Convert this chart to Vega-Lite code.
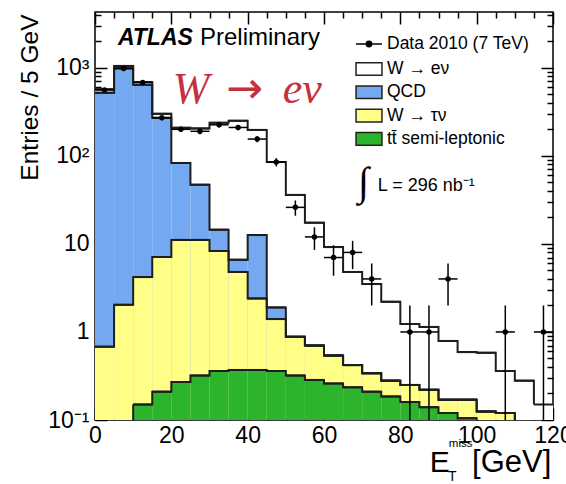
{
  "$schema": "https://vega.github.io/schema/vega-lite/v6.json",
  "width": 458,
  "height": 408,
  "autosize": "none",
  "padding": {"left": 95, "top": 12, "right": 13, "bottom": 64},
  "background": "white",
  "config": {
    "font": "Liberation Sans",
    "view": {"stroke": "black", "strokeWidth": 1.5},
    "axis": {"domain": false, "grid": false, "tickColor": "black", "tickWidth": 1.5, "labelColor": "black", "titleColor": "black", "labelFont": "Liberation Sans", "titleFont": "Liberation Sans"}
  },
  "datasets": {
    "hist": [
      {"bin_lo": 0, "bin_hi": 5, "layer": "W → eν", "top": 570},
      {"bin_lo": 5, "bin_hi": 10, "layer": "W → eν", "top": 1050},
      {"bin_lo": 10, "bin_hi": 15, "layer": "W → eν", "top": 690},
      {"bin_lo": 15, "bin_hi": 20, "layer": "W → eν", "top": 300},
      {"bin_lo": 20, "bin_hi": 25, "layer": "W → eν", "top": 208},
      {"bin_lo": 25, "bin_hi": 30, "layer": "W → eν", "top": 205},
      {"bin_lo": 30, "bin_hi": 35, "layer": "W → eν", "top": 237},
      {"bin_lo": 35, "bin_hi": 40, "layer": "W → eν", "top": 250},
      {"bin_lo": 40, "bin_hi": 45, "layer": "W → eν", "top": 197},
      {"bin_lo": 45, "bin_hi": 50, "layer": "W → eν", "top": 85},
      {"bin_lo": 50, "bin_hi": 55, "layer": "W → eν", "top": 36},
      {"bin_lo": 55, "bin_hi": 60, "layer": "W → eν", "top": 17.4},
      {"bin_lo": 60, "bin_hi": 65, "layer": "W → eν", "top": 9.2},
      {"bin_lo": 65, "bin_hi": 70, "layer": "W → eν", "top": 4.8},
      {"bin_lo": 70, "bin_hi": 75, "layer": "W → eν", "top": 3.5},
      {"bin_lo": 75, "bin_hi": 80, "layer": "W → eν", "top": 2.2},
      {"bin_lo": 80, "bin_hi": 85, "layer": "W → eν", "top": 1.23},
      {"bin_lo": 85, "bin_hi": 90, "layer": "W → eν", "top": 1.14},
      {"bin_lo": 90, "bin_hi": 95, "layer": "W → eν", "top": 0.79},
      {"bin_lo": 95, "bin_hi": 100, "layer": "W → eν", "top": 0.59},
      {"bin_lo": 100, "bin_hi": 105, "layer": "W → eν", "top": 0.58},
      {"bin_lo": 105, "bin_hi": 110, "layer": "W → eν", "top": 0.36},
      {"bin_lo": 110, "bin_hi": 115, "layer": "W → eν", "top": 0.28},
      {"bin_lo": 115, "bin_hi": 120, "layer": "W → eν", "top": 0.15},
      {"bin_lo": 0, "bin_hi": 5, "layer": "QCD", "top": 520},
      {"bin_lo": 5, "bin_hi": 10, "layer": "QCD", "top": 990},
      {"bin_lo": 10, "bin_hi": 15, "layer": "QCD", "top": 640},
      {"bin_lo": 15, "bin_hi": 20, "layer": "QCD", "top": 270},
      {"bin_lo": 20, "bin_hi": 25, "layer": "QCD", "top": 83},
      {"bin_lo": 25, "bin_hi": 30, "layer": "QCD", "top": 47},
      {"bin_lo": 30, "bin_hi": 35, "layer": "QCD", "top": 14.5},
      {"bin_lo": 35, "bin_hi": 40, "layer": "QCD", "top": 6.6},
      {"bin_lo": 40, "bin_hi": 45, "layer": "QCD", "top": 12.6},
      {"bin_lo": 45, "bin_hi": 50, "layer": "QCD", "top": 1.9},
      {"bin_lo": 50, "bin_hi": 55, "layer": "QCD", "top": 0.88},
      {"bin_lo": 55, "bin_hi": 60, "layer": "QCD", "top": 0.7},
      {"bin_lo": 60, "bin_hi": 65, "layer": "QCD", "top": 0.54},
      {"bin_lo": 65, "bin_hi": 70, "layer": "QCD", "top": 0.42},
      {"bin_lo": 70, "bin_hi": 75, "layer": "QCD", "top": 0.34},
      {"bin_lo": 75, "bin_hi": 80, "layer": "QCD", "top": 0.28},
      {"bin_lo": 80, "bin_hi": 85, "layer": "QCD", "top": 0.25},
      {"bin_lo": 85, "bin_hi": 90, "layer": "QCD", "top": 0.22},
      {"bin_lo": 90, "bin_hi": 95, "layer": "QCD", "top": 0.17},
      {"bin_lo": 95, "bin_hi": 100, "layer": "QCD", "top": 0.17},
      {"bin_lo": 100, "bin_hi": 105, "layer": "QCD", "top": 0.125},
      {"bin_lo": 105, "bin_hi": 110, "layer": "QCD", "top": 0.12},
      {"bin_lo": 110, "bin_hi": 115, "layer": "QCD", "top": 0.085},
      {"bin_lo": 115, "bin_hi": 120, "layer": "QCD", "top": 0.07},
      {"bin_lo": 0, "bin_hi": 5, "layer": "W → τν", "top": 0.68},
      {"bin_lo": 5, "bin_hi": 10, "layer": "W → τν", "top": 2.03},
      {"bin_lo": 10, "bin_hi": 15, "layer": "W → τν", "top": 4.2},
      {"bin_lo": 15, "bin_hi": 20, "layer": "W → τν", "top": 7.1},
      {"bin_lo": 20, "bin_hi": 25, "layer": "W → τν", "top": 11.1},
      {"bin_lo": 25, "bin_hi": 30, "layer": "W → τν", "top": 11.1},
      {"bin_lo": 30, "bin_hi": 35, "layer": "W → τν", "top": 8.3},
      {"bin_lo": 35, "bin_hi": 40, "layer": "W → τν", "top": 4.8},
      {"bin_lo": 40, "bin_hi": 45, "layer": "W → τν", "top": 2.4},
      {"bin_lo": 45, "bin_hi": 50, "layer": "W → τν", "top": 1.4},
      {"bin_lo": 50, "bin_hi": 55, "layer": "W → τν", "top": 0.88},
      {"bin_lo": 55, "bin_hi": 60, "layer": "W → τν", "top": 0.7},
      {"bin_lo": 60, "bin_hi": 65, "layer": "W → τν", "top": 0.54},
      {"bin_lo": 65, "bin_hi": 70, "layer": "W → τν", "top": 0.42},
      {"bin_lo": 70, "bin_hi": 75, "layer": "W → τν", "top": 0.34},
      {"bin_lo": 75, "bin_hi": 80, "layer": "W → τν", "top": 0.28},
      {"bin_lo": 80, "bin_hi": 85, "layer": "W → τν", "top": 0.25},
      {"bin_lo": 85, "bin_hi": 90, "layer": "W → τν", "top": 0.22},
      {"bin_lo": 90, "bin_hi": 95, "layer": "W → τν", "top": 0.17},
      {"bin_lo": 95, "bin_hi": 100, "layer": "W → τν", "top": 0.17},
      {"bin_lo": 100, "bin_hi": 105, "layer": "W → τν", "top": 0.125},
      {"bin_lo": 105, "bin_hi": 110, "layer": "W → τν", "top": 0.12},
      {"bin_lo": 110, "bin_hi": 115, "layer": "W → τν", "top": 0.085},
      {"bin_lo": 115, "bin_hi": 120, "layer": "W → τν", "top": 0.07},
      {"bin_lo": 10, "bin_hi": 15, "layer": "tt̄ semi-leptonic", "top": 0.15},
      {"bin_lo": 15, "bin_hi": 20, "layer": "tt̄ semi-leptonic", "top": 0.21},
      {"bin_lo": 20, "bin_hi": 25, "layer": "tt̄ semi-leptonic", "top": 0.27},
      {"bin_lo": 25, "bin_hi": 30, "layer": "tt̄ semi-leptonic", "top": 0.32},
      {"bin_lo": 30, "bin_hi": 35, "layer": "tt̄ semi-leptonic", "top": 0.36},
      {"bin_lo": 35, "bin_hi": 40, "layer": "tt̄ semi-leptonic", "top": 0.37},
      {"bin_lo": 40, "bin_hi": 45, "layer": "tt̄ semi-leptonic", "top": 0.37},
      {"bin_lo": 45, "bin_hi": 50, "layer": "tt̄ semi-leptonic", "top": 0.36},
      {"bin_lo": 50, "bin_hi": 55, "layer": "tt̄ semi-leptonic", "top": 0.32},
      {"bin_lo": 55, "bin_hi": 60, "layer": "tt̄ semi-leptonic", "top": 0.285},
      {"bin_lo": 60, "bin_hi": 65, "layer": "tt̄ semi-leptonic", "top": 0.26},
      {"bin_lo": 65, "bin_hi": 70, "layer": "tt̄ semi-leptonic", "top": 0.235},
      {"bin_lo": 70, "bin_hi": 75, "layer": "tt̄ semi-leptonic", "top": 0.21},
      {"bin_lo": 75, "bin_hi": 80, "layer": "tt̄ semi-leptonic", "top": 0.185},
      {"bin_lo": 80, "bin_hi": 85, "layer": "tt̄ semi-leptonic", "top": 0.16},
      {"bin_lo": 85, "bin_hi": 90, "layer": "tt̄ semi-leptonic", "top": 0.14},
      {"bin_lo": 90, "bin_hi": 95, "layer": "tt̄ semi-leptonic", "top": 0.12},
      {"bin_lo": 95, "bin_hi": 100, "layer": "tt̄ semi-leptonic", "top": 0.105},
      {"bin_lo": 100, "bin_hi": 105, "layer": "tt̄ semi-leptonic", "top": 0.085},
      {"bin_lo": 105, "bin_hi": 110, "layer": "tt̄ semi-leptonic", "top": 0.07},
      {"bin_lo": 110, "bin_hi": 115, "layer": "tt̄ semi-leptonic", "top": 0.055},
      {"bin_lo": 115, "bin_hi": 120, "layer": "tt̄ semi-leptonic", "top": 0.045}
    ],
    "points": [
      {"bin_lo": 0, "bin_hi": 5, "center": 2.5, "n": 560, "lo": 536, "hi": 584},
      {"bin_lo": 5, "bin_hi": 10, "center": 7.5, "n": 980, "lo": 949, "hi": 1011},
      {"bin_lo": 10, "bin_hi": 15, "center": 12.5, "n": 680, "lo": 654, "hi": 706},
      {"bin_lo": 15, "bin_hi": 20, "center": 17.5, "n": 270, "lo": 254, "hi": 286},
      {"bin_lo": 20, "bin_hi": 25, "center": 22.5, "n": 200, "lo": 186, "hi": 214},
      {"bin_lo": 25, "bin_hi": 30, "center": 27.5, "n": 190, "lo": 176, "hi": 204},
      {"bin_lo": 30, "bin_hi": 35, "center": 32.5, "n": 225, "lo": 210, "hi": 240},
      {"bin_lo": 35, "bin_hi": 40, "center": 37.5, "n": 210, "lo": 195.5, "hi": 224.5},
      {"bin_lo": 40, "bin_hi": 45, "center": 42.5, "n": 155, "lo": 142.6, "hi": 167.4},
      {"bin_lo": 45, "bin_hi": 50, "center": 47.5, "n": 85, "lo": 75.8, "hi": 94.2},
      {"bin_lo": 50, "bin_hi": 55, "center": 52.5, "n": 26, "lo": 20.9, "hi": 31.1},
      {"bin_lo": 55, "bin_hi": 60, "center": 57.5, "n": 12, "lo": 8.54, "hi": 15.46},
      {"bin_lo": 60, "bin_hi": 65, "center": 62.5, "n": 7, "lo": 4.35, "hi": 9.65},
      {"bin_lo": 65, "bin_hi": 70, "center": 67.5, "n": 8, "lo": 5.17, "hi": 10.83},
      {"bin_lo": 70, "bin_hi": 75, "center": 72.5, "n": 4, "lo": 2, "hi": 6},
      {"bin_lo": 80, "bin_hi": 85, "center": 82.5, "n": 1, "lo": 0, "hi": 2},
      {"bin_lo": 85, "bin_hi": 90, "center": 87.5, "n": 1, "lo": 0, "hi": 2},
      {"bin_lo": 90, "bin_hi": 95, "center": 92.5, "n": 4, "lo": 2, "hi": 6},
      {"bin_lo": 105, "bin_hi": 110, "center": 107.5, "n": 1, "lo": 0, "hi": 2},
      {"bin_lo": 115, "bin_hi": 120, "center": 117.5, "n": 1, "lo": 0, "hi": 2}
    ]
  },
  "data": {"name": "hist"},
  "resolve": {"axis": {"x": "independent", "y": "independent"}},
  "layer": [
    {
      "transform": [{"filter": "datum.layer == 'W → eν'"}],
      "mark": {"type": "rect", "clip": true},
      "encoding": {
        "x": {"field": "bin_lo", "type": "quantitative", "scale": {"domain": [0, 120], "nice": false, "zero": false},
              "axis": {"orient": "bottom", "values": [0, 20, 40, 60, 80, 100, 120], "ticks": false, "labelFontSize": 23, "labelPadding": 4, "labelFlush": false, "labelOverlap": false, "title": null}},
        "x2": {"field": "bin_hi"},
        "y": {"field": "top", "type": "quantitative", "scale": {"type": "log", "domain": [0.1, 4300], "nice": false},
              "axis": {"orient": "left", "values": [0.1, 1, 10, 100, 1000], "ticks": false, "labelFontSize": 23, "labelPadding": 6, "labelOverlap": false,
                       "labelExpr": "datum.value < 0.5 ? '10⁻¹' : datum.value < 5 ? '1' : datum.value < 50 ? '10' : datum.value < 500 ? '10²' : '10³'",
                       "title": "Entries / 5 GeV", "titleFontSize": 24.5, "titleFontWeight": "normal", "titleAnchor": "end", "titleAngle": -90, "titleX": -65, "titleY": 2, "titleAlign": "right", "titleBaseline": "middle"}},
        "y2": {"datum": 0.1},
        "fill": {"datum": "W → eν", "type": "nominal",
                 "scale": {"domain": ["W → eν", "QCD", "W → τν", "tt̄ semi-leptonic"], "range": ["#ffffff", "#74a8f0", "#ffff88", "#2db42d"]},
                 "legend": {"orient": "none", "legendX": 264, "legendY": 47, "title": null, "symbolType": "M-1.44,-0.7H1.44V0.7H-1.44Z", "symbolSize": 324, "symbolStrokeColor": "#222222", "symbolStrokeWidth": 1.5, "symbolOpacity": 1, "labelFontSize": 17.5, "labelOffset": 8, "rowPadding": 3.3, "padding": 0, "labelColor": "black"}}
      }
    },
    {
      "transform": [{"filter": "datum.layer == 'QCD'"}],
      "mark": {"type": "rect", "clip": true},
      "encoding": {
        "x": {"field": "bin_lo", "type": "quantitative", "axis": {"orient": "bottom", "values": [0, 20, 40, 60, 80, 100, 120], "labels": false, "tickSize": -12, "title": null}},
        "x2": {"field": "bin_hi"},
        "y": {"field": "top", "type": "quantitative", "axis": {"orient": "left", "values": [0.1, 1, 10, 100, 1000], "labels": false, "tickSize": -12, "title": null}},
        "y2": {"datum": 0.1},
        "fill": {"datum": "QCD", "type": "nominal"}
      }
    },
    {
      "transform": [{"filter": "datum.layer == 'W → τν'"}],
      "mark": {"type": "rect", "clip": true},
      "encoding": {
        "x": {"field": "bin_lo", "type": "quantitative", "axis": {"orient": "bottom", "values": [5, 10, 15, 25, 30, 35, 45, 50, 55, 65, 70, 75, 85, 90, 95, 105, 110, 115], "labels": false, "tickSize": -6, "title": null}},
        "x2": {"field": "bin_hi"},
        "y": {"field": "top", "type": "quantitative", "axis": {"orient": "left", "values": [0.2, 0.3, 0.4, 0.5, 0.6, 0.7, 0.8, 0.9, 2, 3, 4, 5, 6, 7, 8, 9, 20, 30, 40, 50, 60, 70, 80, 90, 200, 300, 400, 500, 600, 700, 800, 900, 2000, 3000, 4000], "labels": false, "tickSize": -6, "title": null}},
        "y2": {"datum": 0.1},
        "fill": {"datum": "W → τν", "type": "nominal"}
      }
    },
    {
      "transform": [{"filter": "datum.layer == 'tt̄ semi-leptonic'"}],
      "mark": {"type": "rect", "clip": true},
      "encoding": {
        "x": {"field": "bin_lo", "type": "quantitative", "axis": {"orient": "top", "values": [0, 20, 40, 60, 80, 100, 120], "labels": false, "tickSize": -12, "title": null}},
        "x2": {"field": "bin_hi"},
        "y": {"field": "top", "type": "quantitative", "axis": {"orient": "right", "values": [0.1, 1, 10, 100, 1000], "labels": false, "tickSize": -12, "title": null}},
        "y2": {"datum": 0.1},
        "fill": {"datum": "tt̄ semi-leptonic", "type": "nominal"}
      }
    },
    {
      "mark": {"type": "line", "interpolate": "step-after", "clip": true, "color": "#1e1e1e", "strokeWidth": 2},
      "encoding": {
        "x": {"field": "bin_lo", "type": "quantitative", "axis": {"orient": "top", "values": [5, 10, 15, 25, 30, 35, 45, 50, 55, 65, 70, 75, 85, 90, 95, 105, 110, 115], "labels": false, "tickSize": -6, "title": null}},
        "y": {"field": "top", "type": "quantitative", "axis": {"orient": "right", "values": [0.2, 0.3, 0.4, 0.5, 0.6, 0.7, 0.8, 0.9, 2, 3, 4, 5, 6, 7, 8, 9, 20, 30, 40, 50, 60, 70, 80, 90, 200, 300, 400, 500, 600, 700, 800, 900, 2000, 3000, 4000], "labels": false, "tickSize": -6, "title": null}},
        "detail": {"field": "layer", "type": "nominal"}
      }
    },
    {
      "mark": {"type": "rule", "clip": true, "color": "#1e1e1e", "strokeWidth": 2},
      "encoding": {
        "x": {"field": "bin_lo", "type": "quantitative", "axis": null},
        "x2": {"field": "bin_hi"},
        "y": {"field": "top", "type": "quantitative", "axis": null}
      }
    },
    {
      "transform": [{"filter": "datum.layer == 'tt̄ semi-leptonic' && datum.bin_lo == 10"}],
      "mark": {"type": "rule", "clip": true, "color": "#1e1e1e", "strokeWidth": 2},
      "encoding": {
        "x": {"field": "bin_lo", "type": "quantitative", "axis": null},
        "y": {"field": "top", "type": "quantitative", "axis": null},
        "y2": {"datum": 0.1}
      }
    },
    {
      "data": {"name": "points"},
      "transform": [{"filter": "datum.lo > 0"}],
      "mark": {"type": "rule", "color": "black", "strokeWidth": 1.5},
      "encoding": {
        "x": {"field": "center", "type": "quantitative", "axis": null},
        "y": {"field": "hi", "type": "quantitative", "axis": null},
        "y2": {"field": "lo"}
      }
    },
    {
      "data": {"name": "points"},
      "transform": [{"filter": "datum.lo <= 0"}],
      "mark": {"type": "rule", "color": "black", "strokeWidth": 1.5},
      "encoding": {
        "x": {"field": "center", "type": "quantitative", "axis": null},
        "y": {"field": "hi", "type": "quantitative", "axis": null},
        "y2": {"datum": 0.1}
      }
    },
    {
      "data": {"name": "points"},
      "mark": {"type": "rule", "color": "black", "strokeWidth": 1.5},
      "encoding": {
        "x": {"field": "bin_lo", "type": "quantitative", "axis": null},
        "x2": {"field": "bin_hi"},
        "y": {"field": "n", "type": "quantitative", "axis": null}
      }
    },
    {
      "data": {"name": "points"},
      "mark": {"type": "point", "filled": true, "size": 30, "opacity": 1},
      "encoding": {
        "x": {"field": "center", "type": "quantitative", "axis": null},
        "y": {"field": "n", "type": "quantitative", "axis": null},
        "color": {"datum": "Data 2010 (7 TeV)", "type": "nominal", "scale": {"range": ["black"]},
                  "legend": {"orient": "none", "legendX": 264, "legendY": 22, "title": null, "symbolType": "M-1.44,0H1.44M-0.3,0A0.3,0.3,0,1,1,0.3,0A0.3,0.3,0,1,1,-0.3,0Z", "symbolSize": 324, "symbolStrokeColor": "black", "symbolFillColor": "black", "symbolStrokeWidth": 1.5, "labelFontSize": 17.5, "labelOffset": 8, "padding": 0, "labelColor": "black"}}
      }
    },
    {
      "data": {"values": [{}]},
      "mark": {"type": "text", "text": "ATLAS", "fontSize": 23, "fontWeight": "bold", "fontStyle": "italic", "align": "left", "baseline": "alphabetic", "color": "black"},
      "encoding": {"x": {"datum": 6, "type": "quantitative", "axis": null}, "y": {"datum": 1820, "type": "quantitative", "axis": null}}
    },
    {
      "data": {"values": [{}]},
      "mark": {"type": "text", "text": "Preliminary", "fontSize": 24, "align": "left", "baseline": "alphabetic", "color": "black"},
      "encoding": {"x": {"datum": 27.5, "type": "quantitative", "axis": null}, "y": {"datum": 1820, "type": "quantitative", "axis": null}}
    },
    {
      "data": {"values": [{}]},
      "mark": {"type": "text", "text": "W", "font": "Liberation Serif", "fontSize": 44, "fontStyle": "italic", "align": "left", "baseline": "alphabetic", "color": "#c4303c"},
      "encoding": {"x": {"datum": 20.4, "type": "quantitative", "axis": null}, "y": {"datum": 400, "type": "quantitative", "axis": null}}
    },
    {
      "data": {"values": [{}]},
      "mark": {"type": "text", "text": "→", "font": "DejaVu Sans", "fontSize": 44, "align": "left", "baseline": "alphabetic", "color": "#c4303c"},
      "encoding": {"x": {"datum": 34.3, "type": "quantitative", "axis": null}, "y": {"datum": 400, "type": "quantitative", "axis": null}}
    },
    {
      "data": {"values": [{}]},
      "mark": {"type": "text", "text": "eν", "font": "Liberation Serif", "fontSize": 44, "fontStyle": "italic", "align": "left", "baseline": "alphabetic", "color": "#c4303c"},
      "encoding": {"x": {"datum": 49.2, "type": "quantitative", "axis": null}, "y": {"datum": 400, "type": "quantitative", "axis": null}}
    },
    {
      "data": {"values": [{}]},
      "mark": {"type": "text", "text": "∫", "font": "Liberation Serif", "fontSize": 40, "align": "left", "baseline": "alphabetic", "color": "black"},
      "encoding": {"x": {"datum": 68.9, "type": "quantitative", "axis": null}, "y": {"datum": 36, "type": "quantitative", "axis": null}}
    },
    {
      "data": {"values": [{}]},
      "mark": {"type": "text", "text": "L = 296 nb⁻¹", "fontSize": 18, "align": "left", "baseline": "alphabetic", "color": "black"},
      "encoding": {"x": {"datum": 74.1, "type": "quantitative", "axis": null}, "y": {"datum": 40, "type": "quantitative", "axis": null}}
    },
    {
      "data": {"values": [{}]},
      "mark": {"type": "text", "text": "E", "fontSize": 30, "align": "left", "baseline": "alphabetic", "color": "black"},
      "encoding": {"x": {"datum": 87.7, "type": "quantitative", "axis": null}, "y": {"datum": 0.0257, "type": "quantitative", "axis": null}}
    },
    {
      "data": {"values": [{}]},
      "mark": {"type": "text", "text": "miss", "fontSize": 11.5, "align": "left", "baseline": "alphabetic", "color": "black"},
      "encoding": {"x": {"datum": 92.7, "type": "quantitative", "axis": null}, "y": {"datum": 0.0494, "type": "quantitative", "axis": null}}
    },
    {
      "data": {"values": [{}]},
      "mark": {"type": "text", "text": "T", "fontSize": 14, "align": "left", "baseline": "alphabetic", "color": "black"},
      "encoding": {"x": {"datum": 92.5, "type": "quantitative", "axis": null}, "y": {"datum": 0.0203, "type": "quantitative", "axis": null}}
    },
    {
      "data": {"values": [{}]},
      "mark": {"type": "text", "text": "[GeV]", "fontSize": 31, "align": "left", "baseline": "alphabetic", "color": "black"},
      "encoding": {"x": {"datum": 98.8, "type": "quantitative", "axis": null}, "y": {"datum": 0.0257, "type": "quantitative", "axis": null}}
    }
  ]
}
